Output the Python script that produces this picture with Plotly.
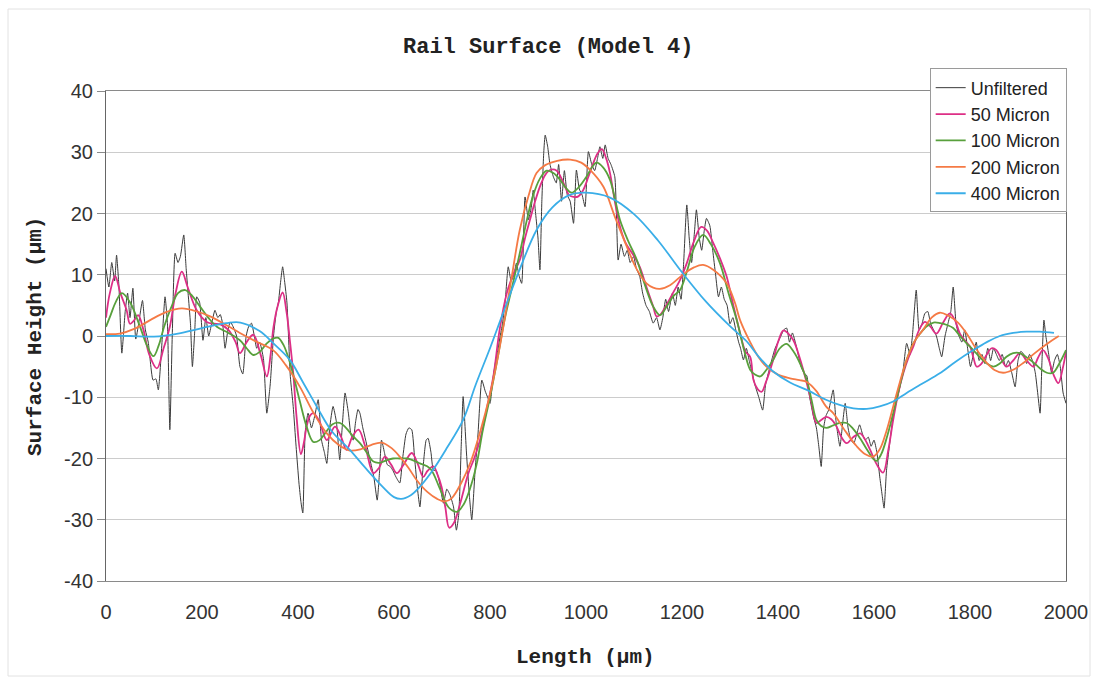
import plotly.graph_objects as go

# ---- Measured profile (unfiltered), length in µm / height in µm ----
unf_x = [0, 6, 12, 18, 22, 27, 33, 40, 45, 50, 56, 62, 68, 76, 82, 88, 92, 98, 104, 109,
         116, 123, 128, 133, 138, 144, 150, 155, 162, 167, 171, 176, 180, 185, 189, 195, 202, 208, 214, 220,
         227, 233, 238, 243, 248, 254, 259, 265, 272, 279, 285, 292, 297, 303, 309, 314, 320, 328, 335, 342,
         349, 355, 359, 364, 368, 372, 377, 384, 390, 396, 402, 406, 410, 415, 421, 428, 435, 442, 449, 455,
         460, 466, 473, 480, 487, 492, 498, 505, 510, 515, 520, 525, 529, 535, 541, 550, 558, 565, 570, 574,
         580, 586, 592, 598, 604, 612, 618, 625, 631, 637, 643, 649, 654, 660, 667, 671, 677, 682, 688, 695,
         703, 710, 717, 724, 730, 735, 740, 744, 751, 757, 762, 769, 775, 783, 790, 795, 800, 806, 812, 817,
         821, 826, 832, 838, 844, 850, 855, 860, 866, 873, 880, 886, 890, 895, 900, 904, 908, 912, 915, 920,
         925, 932, 938, 943, 949, 955, 961, 967, 974, 980, 986, 992, 998, 1005, 1012, 1018, 1024, 1029, 1035, 1040,
         1046, 1052, 1060, 1067, 1073, 1080, 1086, 1092, 1099, 1105, 1112, 1118, 1125, 1132, 1140, 1147, 1154, 1160, 1166, 1172,
         1180, 1186, 1192, 1198, 1203, 1210, 1215, 1220, 1226, 1230, 1236, 1241, 1246, 1251, 1258, 1264, 1270, 1276, 1282, 1288,
         1294, 1300, 1306, 1312, 1318, 1322, 1328, 1334, 1340, 1346, 1352, 1360, 1368, 1374, 1380, 1387, 1394, 1400, 1406, 1412,
         1418, 1424, 1430, 1436, 1442, 1448, 1454, 1460, 1466, 1474, 1480, 1485, 1490, 1495, 1500, 1506, 1515, 1521, 1529, 1535,
         1540, 1546, 1552, 1558, 1564, 1570, 1576, 1582, 1588, 1594, 1600, 1606, 1612, 1617, 1621, 1626, 1632, 1640, 1646, 1652,
         1660, 1668, 1675, 1680, 1688, 1694, 1700, 1706, 1712, 1718, 1724, 1730, 1736, 1741, 1748, 1754, 1760, 1765, 1771, 1777,
         1783, 1789, 1795, 1801, 1807, 1813, 1819, 1825, 1831, 1837, 1843, 1849, 1855, 1861, 1867, 1874, 1880, 1887, 1894, 1900,
         1906, 1912, 1918, 1924, 1930, 1936, 1942, 1946, 1950, 1954, 1958, 1964, 1970, 1976, 1982, 1988, 1994, 2000]
unf_y = [11, 8, 12, 9, 13.2, 8, -2.8, 4, 7, 3, 7.8, -0.5, 2, 5.8, 1, -1, -3.9, -7.2, -7, -8.8,
         -1.8, 6.4, 2, -15.3, 0, 13.5, 12, 13, 16.5, 11, 7, 2, -5, 1, 6.4, 5.5, -0.7, 3, 0, 2,
         4.2, 3, 3.5, 2, -2, 1, 2.3, 1.5, 0, -5, -6.2, 0, 1.5, 2.1, 0, -2, -1, -3.7, -12.6, -8,
         0, 4, 5.4, 9, 11.3, 9, 5.4, -6.6, -11.5, -18, -24, -27, -28.9, -15.7, -12.6, -15, -13, -10.4, -17, -19,
         -20.8, -15, -11.5, -14, -20.2, -15, -9.3, -12.6, -16, -17, -14, -12, -12.6, -15, -17, -20.2, -23, -26.8, -22, -17,
         -19, -21, -21.3, -22, -23, -24, -20, -16, -15, -15.3, -20, -25, -27.9, -22, -17, -16.7, -19, -21.9, -22, -24,
         -27.3, -25, -26, -27.9, -31.7, -29, -18, -9.9, -19.1, -26, -30, -21.9, -16, -7.2, -9, -10, -11, -7, -4, -2,
         -0.1, 2, 6, 11.3, 9, 10, 11.9, 10, 8.6, 22.7, 19, 21, 23.8, 20, 16, 10.8, 22, 30, 32.8, 31,
         28, 26, 25, 28, 22, 27, 23, 22, 18.4, 27.1, 24, 23, 21.1, 30.1, 28, 27, 29, 30.9, 29, 31.2,
         29, 28, 26, 12.4, 15, 13, 14, 12, 13, 11, 9.7, 7, 5, 4, 2.1, 3, 1, 3, 6, 4,
         7, 5, 8, 6, 11.3, 21.4, 16, 12, 17, 20.6, 16, 14, 17, 19.2, 18, 14, 10, 6.4, 8, 6,
         5, 2, 3, 1, -1, -2, -3.9, -2, -4, -6, -8, -10, -12.1, -8, -6, -3.9, -2, -1, 0, 1,
         1.3, -1, 0.5, -1, -3, -5, -6, -6.5, -10, -13.2, -15, -18, -21.3, -15, -13, -12, -8.8, -14, -18, -14,
         -11, -15, -17, -17.5, -16, -14.5, -16, -17, -16.5, -18, -17, -19, -23, -26, -28.1, -22, -18, -13, -11, -9,
         -6, -1.2, -3, 0, 7.5, 1, 2, 3.7, 4, 2, 1, 0, -2, -3.4, 0, 2, 4, 8, 2, 0,
         -1, 1, -2, -5, -3, -1, -4, -3, -4.5, -2, -4, -2, -3, -4, -3, -5, -4, -6, -8.3, -4,
         -2.5, -3, -4.5, -3, -4, -6, -10, -12.6, -4, 2.6, 0, -3, -6, -4, -3, -5, -9.3, -11]

# ---- 50 micron filtered ----
f50_x = [0, 8, 19, 30, 43, 50, 58, 67, 78, 90, 106, 120, 133, 145, 158, 170, 189, 210, 225, 238,
         255, 270, 279, 293, 307, 322, 335, 343, 349, 358, 368, 376, 383, 390, 397, 406, 412, 418, 425, 432,
         445, 460, 477, 490, 501, 513, 526, 540, 557, 569, 581, 594, 606, 620, 637, 650, 661, 670, 682, 690,
         699, 707, 715, 725, 738, 755, 767, 779, 793, 807, 820, 835, 848, 862, 873, 883, 894, 904, 915, 925,
         939, 953, 965, 974, 984, 994, 1005, 1015, 1024, 1033, 1042, 1050, 1060, 1071, 1082, 1092, 1102, 1112, 1126, 1140,
         1147, 1155, 1167, 1181, 1195, 1210, 1225, 1240, 1252, 1265, 1280, 1293, 1307, 1321, 1332, 1342, 1349, 1358, 1366, 1375,
         1390, 1400, 1411, 1420, 1432, 1445, 1460, 1470, 1480, 1490, 1501, 1511, 1522, 1532, 1543, 1557, 1571, 1582, 1592, 1606,
         1619, 1630, 1640, 1650, 1661, 1672, 1682, 1694, 1706, 1718, 1730, 1744, 1758, 1769, 1779, 1790, 1800, 1807, 1814, 1824,
         1835, 1845, 1855, 1865, 1876, 1890, 1904, 1918, 1932, 1942, 1952, 1962, 1975, 1984, 1994, 2000]
f50_y = [3, 7, 9.8, 7, 4.2, 2, 2.5, 3.4, 1, -3, -5.3, -2, 1.5, 7, 10.5, 8, 4.2, 2.3, 2, 1.9,
         1, -1, -2.8, -1, 0.2, -3, -6.6, -3, 1.5, 5, 7.1, 4, -0.7, -6, -13.2, -19.3, -17.5, -14.8, -13, -12.6,
         -14, -17, -14.8, -16.5, -18.6, -16.5, -15.3, -18, -22.4, -21.5, -19.7, -21, -22.4, -21, -19.1, -21, -23, -22, -21.3, -22.5,
         -24.6, -28, -31.3, -30.5, -27.3, -22.4, -20, -17, -12, -6.6, 1, 7, 10, 12.4, 16, 18.9, 22, 24.4, 26.3, 27.1,
         27, 25, 23, 22.7, 22.8, 23.8, 26, 28.2, 29.8, 30.5, 29, 26.6, 22, 17.8, 15.3, 14, 12.8, 11.3, 8, 4.8,
         3.2, 3.5, 5, 7, 9, 11.9, 15.5, 17.8, 17.2, 15.2, 12.5, 9.7, 5, 0.5, -2.5, -3.4, -7.2, -8.7, -9.1, -7.5,
         -3.9, -1, 0.9, 0.5, -0.7, -3.5, -7.7, -11, -14.2, -13.7, -13.2, -13.6, -14.8, -16.5, -17.5, -16.5, -15.9, -17, -18.6, -21,
         -22.3, -18.5, -13.7, -9.5, -6.1, -3.5, -1.7, 1, 2.3, 1.5, 0.4, 2.2, 3.7, 2.5, 0.4, -0.8, -1.7, -3.5, -5, -4.5,
         -3, -2, -2.3, -3.7, -5, -4, -2.8, -4, -5, -3.5, -2.3, -3.5, -6.5, -7.7, -5, -2.5]

# ---- 100 micron filtered ----
f100_x = [0, 10, 20, 33, 50, 71, 85, 99, 110, 121, 135, 150, 165, 180, 196, 213, 231, 255, 279, 293,
          307, 320, 335, 349, 359, 370, 381, 391, 404, 418, 432, 445, 458, 472, 487, 500, 514, 529, 543, 557,
          570, 584, 598, 612, 628, 646, 654, 675, 696, 714, 731, 745, 758, 772, 785, 800, 814, 830, 846, 862,
          877, 890, 904, 918, 932, 946, 958, 970, 985, 1001, 1012, 1022, 1036, 1050, 1060, 1071, 1088, 1106, 1122, 1140,
          1154, 1168, 1182, 1196, 1210, 1226, 1244, 1260, 1279, 1297, 1314, 1330, 1342, 1352, 1363, 1376, 1390, 1404, 1418, 1432,
          1446, 1460, 1470, 1480, 1490, 1501, 1515, 1529, 1543, 1557, 1571, 1585, 1598, 1605, 1615, 1627, 1640, 1654, 1668, 1682,
          1696, 1710, 1724, 1738, 1752, 1765, 1779, 1793, 1807, 1821, 1835, 1849, 1862, 1876, 1890, 1904, 1918, 1932, 1946, 1960,
          1973, 1986, 2000]
f100_y = [1.5, 3.5, 5.5, 7, 5.5, 1.5, -1.5, -3.3, -1.5, 1.5, 4.5, 7, 7.5, 6.5, 4.8, 3, 1.5, 0.5, -0.7, -2,
          -3.1, -2.6, -1.2, -0.4, -0.3, -1.5, -3.8, -6.6, -10.7, -14.8, -17.3, -17, -15.7, -14.4, -14.2, -15, -16.3, -17.5, -19, -20.5,
          -20.7, -20.3, -20, -20, -20, -20.5, -20.8, -21.6, -25, -28, -28.7, -27.5, -25, -21, -15.4, -10, -4.4, 2.5, 8, 13.5,
          19, 23, 25.7, 27, 26.6, 25.5, 24.2, 23.4, 24.3, 26, 27.5, 28.3, 27.5, 25.5, 22.5, 18.9, 15.5, 12.4, 8.5, 4.8,
          3.4, 4.8, 6.5, 7.5, 10.5, 14.5, 16.5, 15, 11.9, 7, 2.6, -2.5, -5.5, -6.3, -6.6, -5.5, -3.9, -2, -1.3, -2.5,
          -4.5, -7.2, -10.5, -13.7, -14.7, -15, -14.6, -14.2, -14.2, -15.2, -16.7, -18.5, -20, -20.4, -19.3, -16.5, -12.6, -8, -3.9, -1.2,
          0.4, 1.6, 2.2, 2.1, 1.8, 1.3, 0, -1.2, -2.3, -3.5, -4.5, -5, -4.5, -3.4, -2.8, -2.8, -3.5, -4.3, -5.3, -6,
          -6, -4.5, -2.3]

# ---- 200 micron filtered ----
f200_x = [0, 29, 60, 92, 125, 158, 190, 217, 250, 279, 310, 348, 375, 404, 432, 460, 485, 508, 530, 552,
          574, 595, 612, 630, 647, 670, 690, 706, 720, 740, 760, 780, 800, 815, 830, 846, 862, 880, 897, 915,
          940, 967, 990, 1010, 1036, 1060, 1085, 1105, 1126, 1140, 1154, 1175, 1203, 1225, 1244, 1265, 1293, 1310, 1321, 1342,
          1360, 1376, 1400, 1425, 1445, 1460, 1480, 1500, 1515, 1540, 1564, 1582, 1598, 1612, 1626, 1640, 1654, 1668, 1685, 1702,
          1720, 1737, 1755, 1775, 1793, 1812, 1835, 1852, 1869, 1890, 1911, 1935, 1960, 1985]
f200_y = [0.3, 0.4, 1.2, 2.6, 3.9, 4.5, 4, 3.2, 1.8, 0.5, -0.8, -2.3, -4.8, -8.3, -12.5, -15.9, -17.8, -18.7, -18.5, -17.8,
          -17.4, -18.3, -19.7, -21.5, -23.5, -25.5, -26.6, -27, -26.5, -24, -20.5, -15.5, -9.5, -4, 2.5, 10, 17.3, 22.8, 26.6, 27.9,
          28.6, 28.8, 28.3, 27, 24.4, 19.5, 14.6, 11, 8.6, 7.9, 7.7, 8.3, 10.1, 11.2, 11.6, 10.8, 8.6, 5.5, 2.6, -1,
          -3.5, -5, -6.3, -6.9, -7.2, -7.5, -9, -11.5, -12.6, -15.5, -18, -19.3, -19.7, -18.5, -15.5, -11.5, -7.5, -3.9, -0.8, 1,
          3, 3.8, 3.3, 2.2, 0.4, -2, -4.4, -5.6, -6, -5.5, -4.4, -2.8, -1.3, 0]

# ---- 400 micron filtered ----
f400_x = [0, 50, 100, 150, 200, 250, 280, 320, 350, 383, 410, 439, 470, 508, 540, 575, 600, 615, 635,
          654, 680, 710, 744, 770, 800, 827, 860, 897, 930, 965, 1000, 1050, 1100, 1150, 1200, 1250, 1300, 1335,
          1360, 1390, 1425, 1460, 1500, 1530, 1557, 1585, 1612, 1640, 1668, 1700, 1737, 1770, 1807, 1835, 1862,
          1890, 1918, 1945, 1975]
f400_y = [0, 0, -0.1, 0.4, 1.3, 2.1, 2.2, 0.8, -1.3, -3.9, -7.5, -11.5, -15.5, -18.6, -21.5, -24.5, -26.3, -26.6, -26,
          -24.6, -22, -18.3, -13.7, -8, -2, 3.7, 10.5, 17.3, 21, 23, 23.4, 22.6, 19.9, 15.6, 10.4, 5.6, 1.6, -0.9,
          -3.4, -5.8, -7.6, -8.8, -10.4, -11.3, -11.8, -11.9, -11.5, -10.7, -9.3, -7.8, -6.1, -4.2, -2.3, -1, 0,
          0.5, 0.7, 0.7, 0.5]

series = [
    ("Unfiltered", unf_x, unf_y, "#3a3a3a", 1.0, 0.5),
    ("50 Micron", f50_x, f50_y, "#dd2f86", 1.8, 1.0),
    ("100 Micron", f100_x, f100_y, "#58a03c", 1.8, 1.0),
    ("200 Micron", f200_x, f200_y, "#f57a45", 1.8, 1.0),
    ("400 Micron", f400_x, f400_y, "#3aaee8", 1.8, 1.0),
]

x_ticks = [0, 200, 400, 600, 800, 1000, 1200, 1400, 1600, 1800, 2000]
y_ticks = [-40, -30, -20, -10, 0, 10, 20, 30, 40]

fig = go.Figure()
for i, (name, xs, ys, color, width, smooth) in enumerate(series):
    fig.add_trace(go.Scatter(
        x=xs, y=ys, name=name, mode="lines", legendgroup=f"g{i}",
        line=dict(color=color, width=width, shape="spline", smoothing=smooth),
    ))

mono = "Liberation Mono, Courier New, monospace"
sans = "Liberation Sans, Arial, sans-serif"

fig.update_layout(
    width=1102, height=682,
    paper_bgcolor="white", plot_bgcolor="white",
    margin=dict(l=106, r=36, t=91, b=101, autoexpand=False),
    showlegend=True,
    legend=dict(
        x=0.858, y=1.046, xanchor="left", yanchor="top",
        bgcolor="white", bordercolor="#9a9a9a", borderwidth=1,
        font=dict(family=sans, size=18, color="#222"),
        itemwidth=30, tracegroupgap=0,
    ),
    xaxis=dict(
        range=[0, 2000], tickvals=x_ticks, ticktext=[str(v) for v in x_ticks],
        showgrid=False, zeroline=False,
        showline=True, linecolor="#8a8a8a", linewidth=1, mirror=True,
        ticks="", ticklabelstandoff=13,
        tickfont=dict(family=sans, size=20, color="#333"),
    ),
    yaxis=dict(
        range=[-40, 40], tickvals=y_ticks, ticktext=[str(v) for v in y_ticks],
        showgrid=True, gridcolor="#cccccc", gridwidth=1,
        zeroline=True, zerolinecolor="#c4c4c4", zerolinewidth=1,
        showline=True, linecolor="#666666", linewidth=1, mirror=True,
        ticks="outside", ticklen=8, tickcolor="#8a8a8a",
        tickfont=dict(family=sans, size=20, color="#333"),
    ),
    annotations=[
        dict(text="<b>Rail Surface (Model 4)</b>", xref="paper", yref="paper",
             x=(548 - 106) / 960, y=(581 - 47) / 490, xanchor="center", yanchor="middle",
             showarrow=False, font=dict(family=mono, size=22, color="#222")),
        dict(text="<b>Length (µm)</b>", xref="paper", yref="paper",
             x=(585 - 106) / 960, y=(581 - 657) / 490, xanchor="center", yanchor="middle",
             showarrow=False, font=dict(family=mono, size=21, color="#222")),
        dict(text="<b>Surface Height (µm)</b>", xref="paper", yref="paper",
             x=(35 - 106) / 960, y=(581 - 337) / 490, xanchor="center", yanchor="middle",
             textangle=-90, showarrow=False, font=dict(family=mono, size=21, color="#222")),
    ],
    shapes=[
        dict(type="rect", xref="paper", yref="paper",
             x0=(8 - 106) / 960, x1=(1090 - 106) / 960,
             y0=(581 - 676) / 490, y1=(581 - 9) / 490,
             line=dict(color="#e2e2e2", width=1), fillcolor="rgba(0,0,0,0)", layer="below"),
    ],
)

fig.write_html("out.html")
